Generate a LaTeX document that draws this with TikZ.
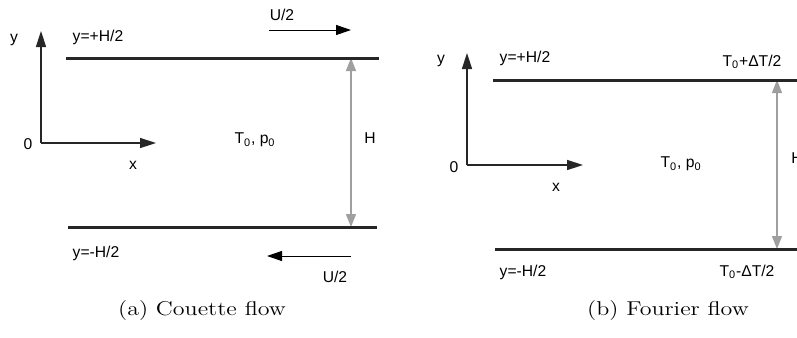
\documentclass[tikz,border=0pt]{standalone}
\usepackage{fontspec}
\newfontfamily\lblfont{Liberation Sans}
\usetikzlibrary{arrows.meta}

\tikzset{
  lbl/.style={font=\lblfont\fontsize{9.4}{11}\selectfont,inner sep=0pt},
  capt/.style={font=\fontsize{12}{14}\selectfont,xscale=1.2,inner sep=0pt},
  plate/.style={line width=1.8pt,black!85},
  axis/.style={line width=0.9pt,black!85,-{Triangle[length=9.6pt,width=6pt]}},
  vel/.style={line width=0.6pt,-{Triangle[length=9pt,width=6pt]}},
  gap/.style={line width=0.8pt,gray!75,{Triangle[length=7.8pt,width=6pt]}-{Triangle[length=7.8pt,width=6pt]}}
}

\begin{document}
\begin{tikzpicture}[x=0.6pt,y=-0.6pt,line cap=butt]
\useasboundingbox (0,0) rectangle (797,337);

% (a) Couette flow
\coordinate (oa) at (41,143);
\coordinate (ya) at (41,31);
\coordinate (xa) at (156,143);
\draw[axis] (oa) -- (ya);
\draw[axis] (oa) -- (xa);
\node[lbl] (ylabA) at (14,40) {y};
\node[lbl] (zeroA) at (28,144) {0};
\node[lbl] (xlabA) at (133,165) {x};
\coordinate (topAw) at (66,58);
\coordinate (topAe) at (379,58);
\coordinate (botAw) at (68,227);
\coordinate (botAe) at (377,227);
\coordinate (gapAt) at (351,58);
\coordinate (gapAb) at (351,227);
\draw[gap] (gapAb) -- (gapAt);
\draw[plate] (topAw) -- (topAe);
\draw[plate] (botAw) -- (botAe);
\node[lbl] (upA) at (98,37) {y=+H/2};
\node[lbl] (lowA) at (96,253) {y=-H/2};
\node[lbl] (hA) at (370,138) {H};
\node[lbl] (stateA) at (255,140) {T\textsubscript{0}, p\textsubscript{0}};
\coordinate (uTw) at (269,30);
\coordinate (uTe) at (351,30);
\draw[vel] (uTw) -- (uTe);
\node[lbl] (uTop) at (282,15) {U/2};
\coordinate (uBw) at (267,256);
\coordinate (uBe) at (351,256);
\draw[vel] (uBe) -- (uBw);
\node[lbl] (uBot) at (335,277) {U/2};
\node[capt] (captA) at (202,311) {(a) Couette flow};

% (b) Fourier flow
\coordinate (ob) at (467,165);
\coordinate (yb) at (467,53);
\coordinate (xb) at (583,165);
\draw[axis] (ob) -- (yb);
\draw[axis] (ob) -- (xb);
\node[lbl] (ylabB) at (441,61) {y};
\node[lbl] (zeroB) at (454,167) {0};
\node[lbl] (xlabB) at (556,187) {x};
\coordinate (topBw) at (493,80);
\coordinate (topBe) at (805,80);
\coordinate (botBw) at (495,249);
\coordinate (botBe) at (805,249);
\coordinate (gapBt) at (777,80);
\coordinate (gapBb) at (777,249);
\draw[gap] (gapBb) -- (gapBt);
\draw[plate] (topBw) -- (topBe);
\draw[plate] (botBw) -- (botBe);
\node[lbl] (upB) at (525,58) {y=+H/2};
\node[lbl] (lowB) at (523,272) {y=-H/2};
\node[lbl] (hotB) at (752,62) {T\textsubscript{0}+ΔT/2};
\node[lbl] (coldB) at (747,272) {T\textsubscript{0}-ΔT/2};
\node[lbl,anchor=west] (hB) at (791,158) {H};
\node[lbl] (stateB) at (681,164) {T\textsubscript{0}, p\textsubscript{0}};
\node[capt] (captB) at (668,311) {(b) Fourier flow};
\end{tikzpicture}
\end{document}
